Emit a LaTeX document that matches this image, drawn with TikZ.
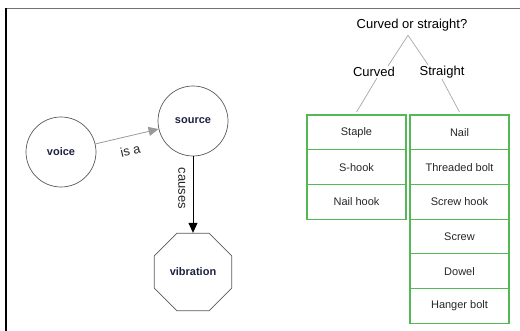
\documentclass[tikz,border=0pt]{standalone}
\usepackage{fontspec}
\setmainfont{Liberation Sans}
\usetikzlibrary {arrows.meta,
                 positioning,
                 shapes.geometric}
\definecolor{boxgreen}{RGB}{84,184,84}
\definecolor{inkblue}{RGB}{30,34,64}
\tikzset{
        concept/.style={circle, draw=black!65, line width=0.7pt, minimum size=70pt,
                        inner sep=0pt, text=inkblue,
                        font=\fontsize{11}{13}\selectfont\bfseries},
        octa/.style={concept, regular polygon, regular polygon sides=8,
                     minimum size=84pt},
        rel/.style={font=\fontsize{13}{15}\selectfont, text=black!85},
        branch/.style={font=\fontsize{13}{15}\selectfont, inner sep=1pt},
        cell/.style={draw=boxgreen, line width=1.1pt, minimum width=99pt,
                     minimum height=34.7pt, inner sep=0pt, outer sep=0pt,
                     text=black!85, font=\fontsize{11}{13}\selectfont},
        treeline/.style={draw=black!35, line width=0.7pt},
        myarrow/.style={-{Triangle[length=10pt, width=9pt]}, line width=0.8pt},
 }

\begin{document}
\begin{tikzpicture}[x=1pt, y=-1pt]
    \useasboundingbox (0,0) rectangle (520,331);
    % frame of the screenshot
    \draw[black!55, line width=1.5pt] (6,8.5) -- (520,8.5);
    \draw[line width=1.3pt] (6,8) -- (6,331);

    % concept map
    \node[concept] (voice) at (61,152) {voice};
    \node[concept] (source) at (193,121) {source};
    \node[octa] (vibration) at (193,272) {vibration};
    \draw[myarrow, black!40] (voice) -- node[rel, sloped, below=6pt] {is a} (source);
    \draw[myarrow] (source) -- node[rel, sloped, below=4pt, pos=0.42] {causes} (vibration);

    % tree
    \node[branch] (question) at (412,25) {Curved or straight?};
    \node[branch] (curved) at (374,72) {Curved};
    \node[branch] (straight) at (442,72) {Straight};

    \node[cell] (staple) at (356.5,132.4) {Staple};
    \node[cell, below=0pt of staple] (shook) {S-hook};
    \node[cell, below=0pt of shook] (nailhook) {Nail hook};

    \node[cell] (nail) at (459.5,132.4) {Nail};
    \node[cell, below=0pt of nail] (bolt) {Threaded bolt};
    \node[cell, below=0pt of bolt] (screwhook) {Screw hook};
    \node[cell, below=0pt of screwhook] (screw) {Screw};
    \node[cell, below=0pt of screw] (dowel) {Dowel};
    \node[cell, below=0pt of dowel] (hanger) {Hanger bolt};

    \draw[treeline] ([xshift=-4pt, yshift=-3pt]question.south) -- ([xshift=14pt]curved.north);
    \draw[treeline] ([xshift=-4pt, yshift=-3pt]question.south) -- ([xshift=-14pt]straight.north);
    \draw[treeline] ([xshift=3pt]curved.south) -- ([yshift=3pt]staple.north);
    \draw[treeline] (straight.south) -- ([yshift=3pt]nail.north);
\end{tikzpicture}
\end{document}
